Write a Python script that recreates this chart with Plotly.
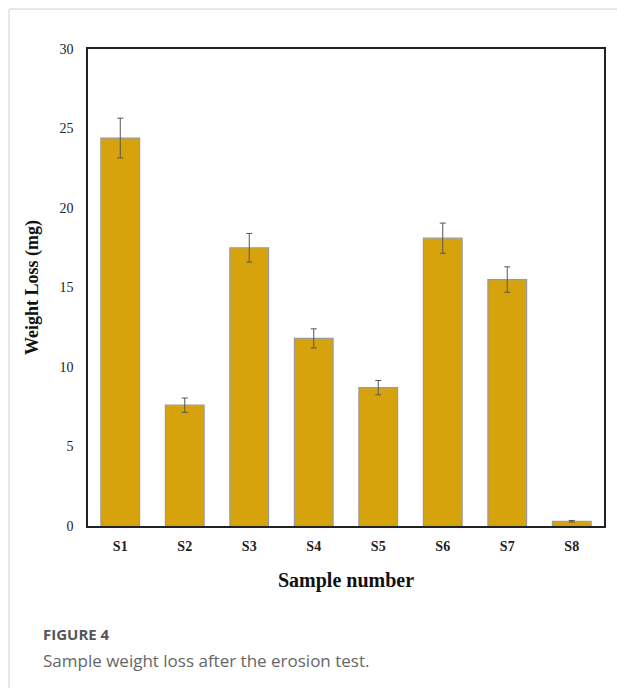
import plotly.graph_objects as go

samples = ["S1", "S2", "S3", "S4", "S5", "S6", "S7", "S8"]
weight_loss = [24.4, 7.6, 17.5, 11.8, 8.7, 18.1, 15.5, 0.3]
errors = [1.25, 0.45, 0.9, 0.6, 0.45, 0.95, 0.8, 0.05]
y_ticks = [0, 5, 10, 15, 20, 25, 30]

W, H = 617, 688
ML, MR, MT, MB = 88, 13, 49, 162

fig = go.Figure()
fig.add_trace(go.Bar(
    x=samples, y=weight_loss,
    marker=dict(color="#D6A30C", line=dict(color="#9a9a9a", width=1.2)),
    width=0.6,
    error_y=dict(type="data", array=errors, visible=True, color="#555555", thickness=1, width=3),
))

serif = "Liberation Serif, Times New Roman, serif"
fig.update_layout(
    width=W, height=H,
    margin=dict(l=ML, r=MR, t=MT, b=MB),
    paper_bgcolor="white", plot_bgcolor="white",
    showlegend=False,
    xaxis=dict(
        showline=True, linecolor="#222", linewidth=1.5, mirror=True,
        showgrid=False, ticks="",
        tickfont=dict(family=serif, size=14, color="#222"),
        tickprefix="<b>", ticksuffix="</b>",
        ticklabelstandoff=6,
        title=dict(text="<b>Sample number</b>", font=dict(family=serif, size=20, color="#111"), standoff=20),
    ),
    yaxis=dict(
        range=[0, 30], tickvals=y_ticks,
        showline=True, linecolor="#222", linewidth=1.5, mirror=True,
        showgrid=False, ticks="", zeroline=False,
        tickfont=dict(family=serif, size=14, color="#222"),
        ticklabelstandoff=10,
        title=dict(text="<b>Weight Loss (mg)</b>", font=dict(family=serif, size=18, color="#111"), standoff=16),
    ),
)

def py(ypix):
    return (H - MB - ypix) / (H - MT - MB)

def px(xpix):
    return (xpix - ML) / (W - ML - MR)

# outer frame lines (left and top)
fig.add_shape(type="line", xref="paper", yref="paper",
              x0=px(9), x1=px(9), y0=py(9), y1=py(H),
              line=dict(color="#d0d0d0", width=1))
fig.add_shape(type="line", xref="paper", yref="paper",
              x0=px(9), x1=px(W), y0=py(9), y1=py(9),
              line=dict(color="#d0d0d0", width=1))

fig.add_annotation(text="<b>FIGURE 4</b>", xref="paper", yref="paper", x=px(41), y=py(634),
                   xanchor="left", yanchor="middle", showarrow=False,
                   font=dict(family="Open Sans, sans-serif", size=15, color="#555555"))
fig.add_annotation(text="Sample weight loss after the erosion test.", xref="paper", yref="paper",
                   x=px(41), y=py(660), xanchor="left", yanchor="middle", showarrow=False,
                   font=dict(family="Open Sans, sans-serif", size=17, color="#666666"))

fig.write_html("out.html", config={"displayModeBar": False},
               post_script="document.body.style.margin='0';document.body.style.padding='0';")
